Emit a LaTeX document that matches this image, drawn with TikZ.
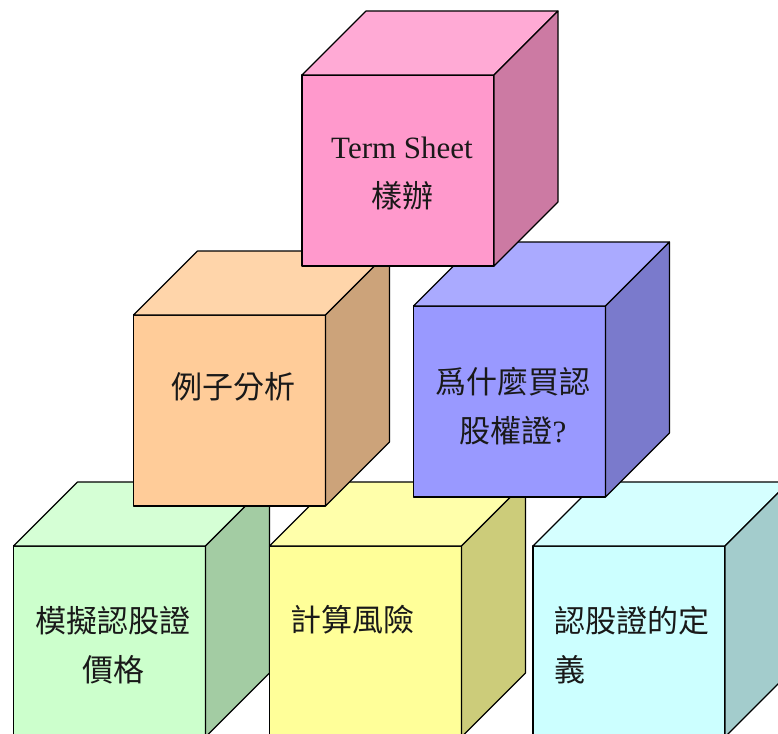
\documentclass[tikz,border=0pt]{standalone}
\usepackage{fontspec}
\setmainfont{Liberation Serif}
\newfontfamily\cjk{Noto Sans CJK TC}
\definecolor{pinkF}{HTML}{FF99CC}\definecolor{pinkT}{HTML}{FFAAD5}\definecolor{pinkS}{HTML}{CC7AA3}
\definecolor{orgF}{HTML}{FFCC99}\definecolor{orgT}{HTML}{FFD5AA}\definecolor{orgS}{HTML}{CCA37A}
\definecolor{bluF}{HTML}{9999FF}\definecolor{bluT}{HTML}{AAAAFF}\definecolor{bluS}{HTML}{7A7ACC}
\definecolor{grnF}{HTML}{CCFFCC}\definecolor{grnT}{HTML}{D5FFD5}\definecolor{grnS}{HTML}{A3CCA3}
\definecolor{yelF}{HTML}{FFFF99}\definecolor{yelT}{HTML}{FFFFAA}\definecolor{yelS}{HTML}{CCCC7A}
\definecolor{cyaF}{HTML}{CCFFFF}\definecolor{cyaT}{HTML}{D5FFFF}\definecolor{cyaS}{HTML}{A3CCCC}
\newcommand\mkcube[6]{%
  \node[frontface, fill=#4, anchor=north west] (#1) at (#2,#3) {};
  \filldraw[facestyle, fill=#5] (#1.north west) -- ++(64,-64) -- ++(192,0) -- (#1.north east) -- cycle;
  \filldraw[facestyle, fill=#6] (#1.north east) -- ++(64,-64) -- ++(0,191) -- (#1.south east) -- cycle;
}
\tikzset{
  frontface/.style={draw=black, line width=1.1pt, minimum width=192pt, minimum height=191pt, inner sep=0pt, outer sep=0pt, line join=round},
  facestyle/.style={draw=black, line width=1.1pt, line join=round},
  lbl/.style={inner sep=0pt, font=\fontsize{31}{49}\selectfont, text=black!90},
  cjklbl/.style={inner sep=0pt, font=\fontsize{31}{49}\selectfont\cjk, text=black!90}
}
\begin{document}
\begin{tikzpicture}[x=1pt,y=-1pt]
\useasboundingbox (0,0) rectangle (778,733);
\clip (0,0) rectangle (778,733);
% bottom row
\mkcube{green}{13.5}{546}{grnF}{grnT}{grnS}
\mkcube{yellow}{269.5}{546}{yelF}{yelT}{yelS}
\mkcube{cyan}{533}{546}{cyaF}{cyaT}{cyaS}
% middle row
\mkcube{orange}{133.5}{315}{orgF}{orgT}{orgS}
\mkcube{blue}{413.5}{306}{bluF}{bluT}{bluS}
% top
\mkcube{pink}{302}{75}{pinkF}{pinkT}{pinkS}
% labels
\node[lbl, align=center] (tPink) at (402,174) {Term Sheet\\{\cjk 樣辦}};
\node[cjklbl] (tOrange) at (233,387) {例子分析};
\node[cjklbl, align=center] (tBlue) at (513,406) {爲什麼買認\\股權證{\rmfamily ?}};
\node[cjklbl, align=center] (tGreen) at (113,645) {模擬認股證\\價格};
\node[cjklbl, anchor=west] (tYellow) at (290,620) {計算風險};
\node[cjklbl, align=left, anchor=west] (tCyan) at (554,645) {認股證的定\\義};
\end{tikzpicture}
\end{document}
